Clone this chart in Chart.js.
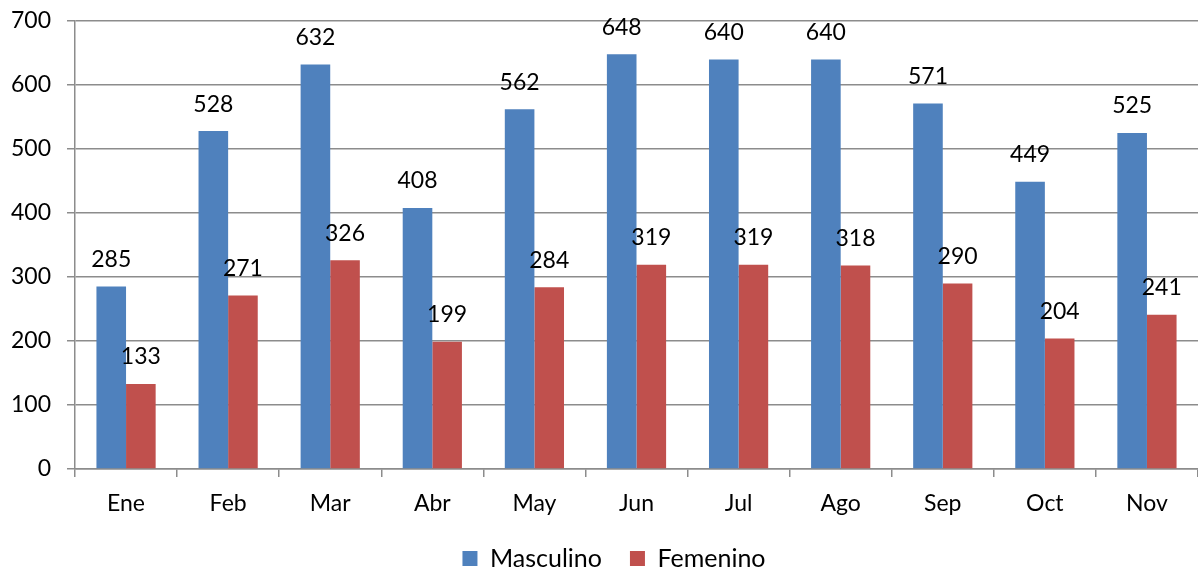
<!DOCTYPE html>
<html>
<head>
<meta charset="utf-8">
<script src="https://cdn.jsdelivr.net/npm/chart.js@4/dist/chart.umd.min.js"></script>
<style>
  body { margin: 0; background: #fff; overflow: hidden; }
  #wrap { width: 1198px; height: 571px; position: relative; }
</style>
</head>
<body>
<div id="wrap"><canvas id="genderChart"></canvas></div>
<script>
// Monthly counts by gender
const months = ['Ene', 'Feb', 'Mar', 'Abr', 'May', 'Jun', 'Jul', 'Ago', 'Sep', 'Oct', 'Nov'];
const masculino = [285, 528, 632, 408, 562, 648, 640, 640, 571, 449, 525];
const femenino = [133, 271, 326, 199, 284, 319, 319, 318, 290, 204, 241];
const yTicks = [0, 100, 200, 300, 400, 500, 600, 700];

document.addEventListener('DOMContentLoaded', function () {
  const fontFamily = 'Lato, "Open Sans", sans-serif';
  const fontSize = 23;
  const gridColor = '#8c8c8c';

  // draws the value above every bar
  const valueLabels = {
    id: 'valueLabels',
    afterDatasetsDraw: function (chart) {
      const ctx = chart.ctx;
      ctx.save();
      ctx.fillStyle = '#000';
      ctx.font = fontSize + 'px ' + fontFamily;
      ctx.textAlign = 'center';
      ctx.textBaseline = 'middle';
      chart.data.datasets.forEach(function (ds, i) {
        chart.getDatasetMeta(i).data.forEach(function (bar, j) {
          ctx.fillText(String(ds.data[j]), bar.x, bar.y - 27);
        });
      });
      ctx.restore();
    },
  };

  // the original legend sits a bit right of centre
  const legendShift = {
    id: 'legendShift',
    afterLayout: function (chart) {
      if (chart.legend) {
        chart.legend.left += 15;
        chart.legend.right += 15;
      }
    },
  };

  const ctx = document.getElementById('genderChart').getContext('2d');
  new Chart(ctx, {
    type: 'bar',
    data: {
      labels: months,
      datasets: [
        {
          label: 'Masculino',
          data: masculino,
          backgroundColor: '#4f81bd',
          categoryPercentage: 0.58,
          barPercentage: 1.0,
        },
        {
          label: 'Femenino',
          data: femenino,
          backgroundColor: '#c0504d',
          categoryPercentage: 0.58,
          barPercentage: 1.0,
        },
      ],
    },
    options: {
      responsive: true,
      maintainAspectRatio: false,
      animation: false,
      layout: { padding: { top: 0, right: 0, left: 0, bottom: -10 } },
      plugins: {
        tooltip: { enabled: false },
        legend: {
          position: 'bottom',
          labels: {
            font: { family: fontFamily, size: 25 },
            color: '#000',
            boxWidth: 15,
            boxHeight: 15,
            padding: 28,
          },
        },
      },
      scales: {
        x: {
          afterFit: function (axis) {
            axis.height = 49;
          },
          grid: {
            drawOnChartArea: false,
            drawTicks: true,
            tickLength: 8,
            color: gridColor,
            lineWidth: 1.5,
          },
          border: { color: gridColor, width: 1.5 },
          ticks: {
            font: { family: fontFamily, size: fontSize },
            color: '#000',
            padding: 13,
          },
        },
        y: {
          min: 0,
          max: 700,
          afterBuildTicks: function (axis) {
            axis.ticks = yTicks.map((v) => ({ value: v }));
          },
          afterFit: function (axis) {
            axis.width = 75;
            axis.paddingTop = 21;
            axis.paddingBottom = 14;
          },
          grid: {
            color: gridColor,
            lineWidth: 1.5,
            tickLength: 8,
          },
          border: { color: gridColor, width: 1.5 },
          ticks: {
            font: { family: fontFamily, size: fontSize },
            color: '#000',
            padding: 16,
          },
        },
      },
    },
    plugins: [valueLabels, legendShift],
  });
});
</script>
</body>
</html>
